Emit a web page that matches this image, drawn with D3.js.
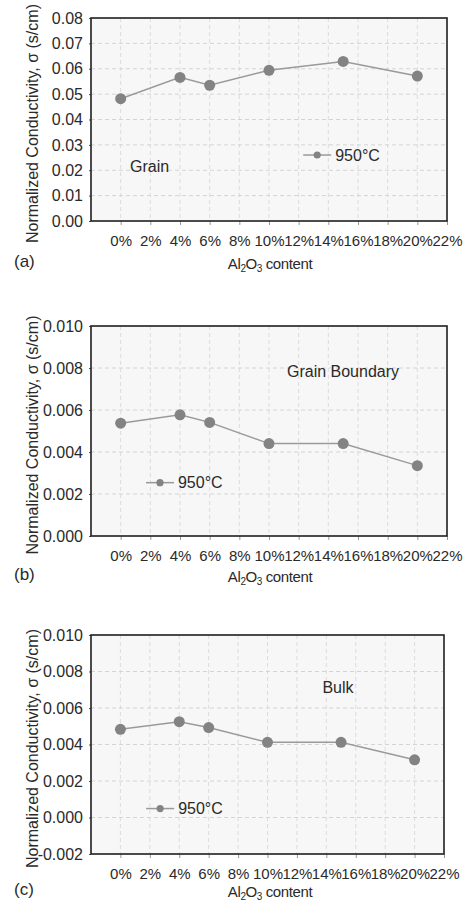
<!DOCTYPE html>
<meta charset="utf-8">
<style>
body { margin: 0; background: #fff; }
text { font-family: "Liberation Sans", Arial, sans-serif; fill: #2a2a2a; }
</style>
<body>
<script src="https://cdn.jsdelivr.net/npm/d3@7"></script>
<script>

var w = 472,
    h = 904;

// Al2O3 content (%) of the samples
var contents = [0, 4, 6, 10, 15, 20];

// normalized conductivity at 950°C (s/cm)
var grainValues = [0.0482, 0.0566, 0.0535, 0.0594, 0.0629, 0.0571],
    boundaryValues = [0.00537, 0.00577, 0.00541, 0.00440, 0.00440, 0.00335],
    bulkValues = [0.00483, 0.00525, 0.00493, 0.00412, 0.00412, 0.00316];

var xTicks = [0, 2, 4, 6, 8, 10, 12, 14, 16, 18, 20, 22],
    grainTicks = [0, 0.01, 0.02, 0.03, 0.04, 0.05, 0.06, 0.07, 0.08],
    boundaryTicks = [0, 0.002, 0.004, 0.006, 0.008, 0.010],
    bulkTicks = [-0.002, 0, 0.002, 0.004, 0.006, 0.008, 0.010];

var panels = [
  {tag: "(a)", values: grainValues, ticks: grainTicks, digits: 2, name: "Grain",
   box: {left: 91, right: 447, top: 18, bottom: 221}, titleGap: 48,
   nameAt: {x: 130, y: 166, anchor: "start"}, legend: [13.25, 0.026]},
  {tag: "(b)", values: boundaryValues, ticks: boundaryTicks, digits: 3, name: "Grain Boundary",
   box: {left: 91, right: 447, top: 326, bottom: 536}, titleGap: 46,
   nameAt: {x: 343, y: 371, anchor: "middle"}, legend: [2.65, 0.00254]},
  {tag: "(c)", values: bulkValues, ticks: bulkTicks, digits: 3, name: "Bulk",
   box: {left: 91, right: 444, top: 635, bottom: 854}, titleGap: 43,
   nameAt: {x: 338, y: 687, anchor: "middle"}, legend: [2.7, 0.00049]}
];

var svg = d3.select("body").append("svg")
    .attr("width", w)
    .attr("height", h);

panels.forEach(function(p) {
  var b = p.box;

  var x = d3.scaleLinear().domain([-2, 22]).range([b.left, b.right]);
  var y = d3.scaleLinear().domain(d3.extent(p.ticks)).range([b.bottom, b.top]);

  var g = svg.append("g");

  g.append("rect")
      .attr("x", b.left)
      .attr("y", b.top)
      .attr("width", b.right - b.left)
      .attr("height", b.bottom - b.top)
      .attr("fill", "#f7f7f7");

  // dashed grid
  g.selectAll(".vgrid")
      .data(xTicks.slice(0, -1))
    .enter().append("line")
      .attr("x1", function(d) { return x(d); })
      .attr("x2", function(d) { return x(d); })
      .attr("y1", b.top)
      .attr("y2", b.bottom)
      .attr("stroke", "#dcdcdc")
      .attr("stroke-dasharray", "4,3");

  g.selectAll(".hgrid")
      .data(p.ticks.slice(1, -1))
    .enter().append("line")
      .attr("x1", b.left)
      .attr("x2", b.right)
      .attr("y1", function(d) { return y(d); })
      .attr("y2", function(d) { return y(d); })
      .attr("stroke", "#d4d4d4")
      .attr("stroke-dasharray", "4,3");

  // axes
  var xAxis = g.append("g")
      .attr("transform", "translate(0," + b.bottom + ")")
      .call(d3.axisBottom(x).tickValues(xTicks).tickSize(4).tickPadding(10)
        .tickFormat(function(d) { return d + "%"; }));
  xAxis.select(".domain").remove();
  xAxis.selectAll(".tick line").attr("stroke", "#999");
  xAxis.selectAll("text").attr("fill", "#2a2a2a")
      .style("font-family", "Liberation Sans, Arial, sans-serif")
      .style("font-size", "15px");

  var yAxis = g.append("g")
      .attr("transform", "translate(" + b.left + ",0)")
      .call(d3.axisLeft(y).tickValues(p.ticks).tickSize(2).tickPadding(6)
        .tickFormat(function(d) { return d.toFixed(p.digits); }));
  yAxis.select(".domain").remove();
  yAxis.selectAll(".tick line").attr("stroke", "#555");
  yAxis.selectAll("text").attr("fill", "#2a2a2a")
      .style("font-family", "Liberation Sans, Arial, sans-serif")
      .style("font-size", "16px");

  g.append("rect")
      .attr("x", b.left)
      .attr("y", b.top)
      .attr("width", b.right - b.left)
      .attr("height", b.bottom - b.top)
      .attr("fill", "none")
      .attr("stroke", "#1e1e1e")
      .attr("stroke-width", 1.6);

  // series
  var pts = contents.map(function(c, i) { return [c, p.values[i]]; });

  g.append("path")
      .datum(pts)
      .attr("fill", "none")
      .attr("stroke", "#9a9a9a")
      .attr("stroke-width", 1.5)
      .attr("d", d3.line()
        .x(function(d) { return x(d[0]); })
        .y(function(d) { return y(d[1]); }));

  g.selectAll(".dot")
      .data(pts)
    .enter().append("circle")
      .attr("cx", function(d) { return x(d[0]); })
      .attr("cy", function(d) { return y(d[1]); })
      .attr("r", 5.5)
      .attr("fill", "#838383");

  // legend
  var lx = x(p.legend[0]), ly = y(p.legend[1]);
  g.append("line")
      .attr("x1", lx - 14).attr("x2", lx + 14)
      .attr("y1", ly).attr("y2", ly)
      .attr("stroke", "#9a9a9a")
      .attr("stroke-width", 1.5);
  g.append("circle")
      .attr("cx", lx).attr("cy", ly)
      .attr("r", 3.6)
      .attr("fill", "#838383");
  g.append("text")
      .attr("x", lx + 18).attr("y", ly)
      .attr("dy", "0.36em")
      .style("font-size", "16px")
      .text("950°C");

  g.append("text")
      .attr("x", p.nameAt.x).attr("y", p.nameAt.y)
      .attr("dy", "0.36em")
      .attr("text-anchor", p.nameAt.anchor)
      .style("font-size", "16px")
      .text(p.name);

  // axis titles
  g.append("text")
      .attr("transform", "translate(38," + ((b.top + b.bottom) / 2 + 4) + ")rotate(-90)")
      .attr("text-anchor", "middle")
      .style("font-size", "16px")
      .text("Normalized Conductivity, σ (s/cm)");

  var xl = g.append("text")
      .attr("x", 270).attr("y", b.bottom + p.titleGap)
      .attr("text-anchor", "middle")
      .style("font-size", "15px")
      .style("letter-spacing", "-0.4px");
  xl.append("tspan").text("Al");
  xl.append("tspan").attr("dy", 3).style("font-size", "10px").text("2");
  xl.append("tspan").attr("dy", -3).text("O");
  xl.append("tspan").attr("dy", 3).style("font-size", "10px").text("3");
  xl.append("tspan").attr("dy", -3).text(" content");

  g.append("text")
      .attr("x", 14).attr("y", b.bottom + p.titleGap - 2)
      .style("font-size", "17px")
      .text(p.tag);
});

</script>
